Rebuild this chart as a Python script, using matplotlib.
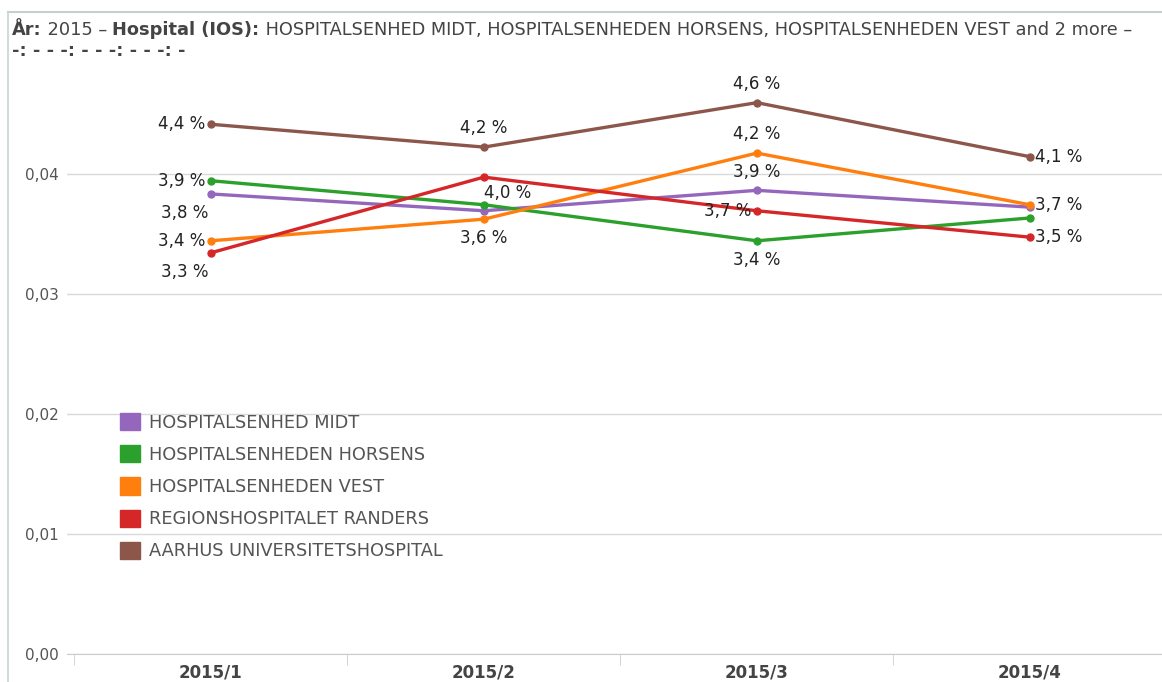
import numpy as np
import matplotlib.pyplot as plt
from matplotlib.patches import Patch
from matplotlib.lines import Line2D

plt.rcParams["font.family"] = ["DejaVu Sans"]

kvartaler = ["2015/1", "2015/2", "2015/3", "2015/4"]

hospitaler = ["HOSPITALSENHED MIDT", "HOSPITALSENHEDEN HORSENS",
              "HOSPITALSENHEDEN VEST", "REGIONSHOSPITALET RANDERS",
              "AARHUS UNIVERSITETSHOSPITAL"]

midt = [0.0383, 0.0369, 0.0386, 0.0372]
horsens = [0.0394, 0.0374, 0.0344, 0.0363]
vest = [0.0344, 0.0362, 0.0417, 0.0374]
randers = [0.0334, 0.0397, 0.0369, 0.0347]
aarhus = [0.0441, 0.0422, 0.0459, 0.0414]

farver = ["#9467bd", "#2ca02c", "#ff7f0e", "#d62728", "#8c564b"]

# hvilke punkter der har en etiket, og hvor etiketten sidder (l/r/o/u/ul/ur)
etiketter = [
    {0: "ul", 2: "o"},
    {0: "l", 2: "u"},
    {0: "l", 1: "u", 2: "o", 3: "r"},
    {0: "ul", 1: "ur", 2: "l", 3: "r"},
    {0: "l", 1: "o", 2: "o", 3: "r"},
]

serier = [midt, horsens, vest, randers, aarhus]

W, H = 1162, 682
fig = plt.figure(figsize=(W / 100, H / 100), dpi=100)
ax = fig.add_axes([67 / W, (H - 654) / H, (W - 67) / W, 600 / H])

x = np.arange(len(kvartaler))
for navn, vals, farve in zip(hospitaler, serier, farver):
    ax.plot(x, vals, color=farve, lw=2.4, marker="o", ms=5, zorder=3,
            solid_capstyle="round")

# etiketter med procent
offs = {"l": (-4, 0, "right", "center"), "r": (4, 0, "left", "center"),
        "o": (0, 7, "center", "bottom"), "u": (0, -7, "center", "top"),
        "ul": (-2, -7, "right", "top"), "ur": (0, -5, "left", "top")}
for vals, lab in zip(serier, etiketter):
    for i, pos in lab.items():
        dx, dy, ha, va = offs[pos]
        tekst = ("%.1f %%" % (vals[i] * 100)).replace(".", ",")
        ax.annotate(tekst, (x[i], vals[i]), xytext=(dx, dy),
                    textcoords="offset points", ha=ha, va=va,
                    fontsize=12, color="#222222", zorder=4)

ax.set_xlim(-0.527, 3.484)
ax.set_ylim(0, 0.04995)
ax.set_yticks([0, 0.01, 0.02, 0.03, 0.04])
ax.set_yticklabels(["0,00", "0,01", "0,02", "0,03", "0,04"])
ax.grid(axis="y", color="#d9d9d9", lw=1)
ax.set_axisbelow(True)
for s in ["top", "right", "left"]:
    ax.spines[s].set_visible(False)
ax.spines["bottom"].set_color("#cccccc")
ax.tick_params(axis="y", length=0, labelsize=11, labelcolor="#555555", pad=6)

ax.set_xticks(x)
ax.set_xticklabels(kvartaler, fontsize=12, fontweight="bold", color="#444444")
ax.tick_params(axis="x", length=0, pad=7)
ax.set_xticks(np.arange(len(kvartaler)) - 0.5, minor=True)
ax.tick_params(axis="x", which="minor", length=8, color="#cccccc")

handles = [Patch(facecolor=f, edgecolor=f) for f in farver]
leg = ax.legend(handles, hospitaler, loc="upper left",
                bbox_to_anchor=(104 / W, (H - 397) / H),
                bbox_transform=fig.transFigure, frameon=False,
                fontsize=12.8, handlelength=1.12, handleheight=1.12,
                labelspacing=0.76, handletextpad=0.5)
for t in leg.get_texts():
    t.set_color("#555555")

# overskrift med fed og normal tekst
dele = [("År:", "bold"), (" 2015 – ", "normal"), ("Hospital (IOS):", "bold"),
        (" HOSPITALSENHED MIDT, HOSPITALSENHEDEN HORSENS, HOSPITALSENHEDEN VEST and 2 more –", "normal")]
forrige = fig.text(12 / W, 1 - 30 / H, dele[0][0], fontweight=dele[0][1],
                   fontsize=12.8, color="#444444", va="center")
for txt, vaegt in dele[1:]:
    forrige = ax.annotate(txt, xy=(1, 0), xycoords=forrige, va="bottom",
                          ha="left", fontweight=vaegt, fontsize=12.8,
                          color="#444444", annotation_clip=False)
fig.text(12 / W, 1 - 51 / H, "-: - - -: - - -: - - -: -", fontsize=13,
         fontweight="bold", color="#444444", va="center")

# ramme
fig.add_artist(Line2D([8 / W, 1], [1 - 12 / H, 1 - 12 / H], color="#c8cfcf", lw=1.5))
fig.add_artist(Line2D([8 / W, 8 / W], [0, 1 - 12 / H], color="#c8d4d4", lw=1.2))

fig.savefig("out.png", dpi=100)
